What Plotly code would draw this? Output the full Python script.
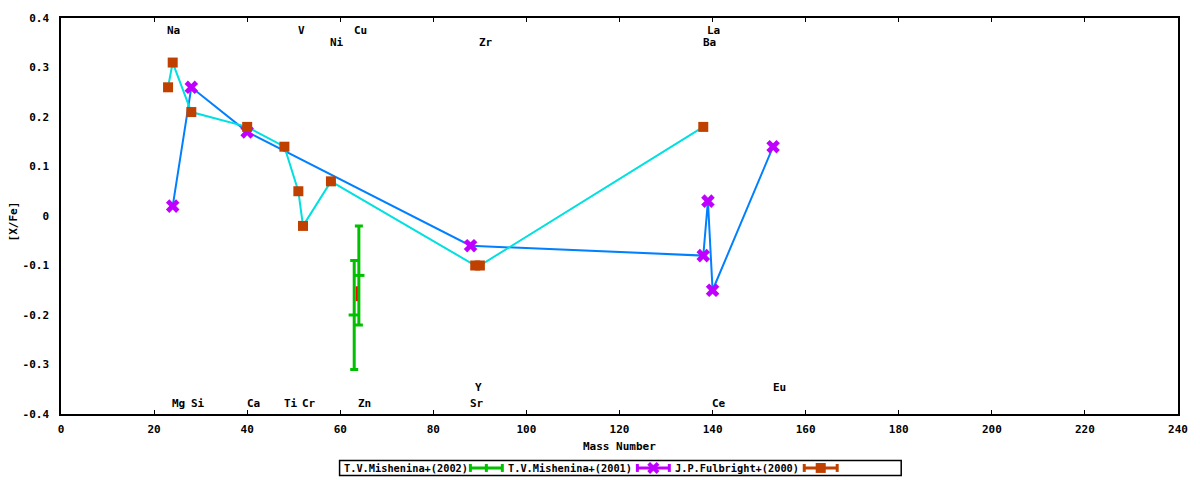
import plotly.graph_objects as go

# [X/Fe] versus mass number
mish2002_mass = [63, 64]
mish2002_xfe = [-0.20, -0.12]
mish2002_err = [0.11, 0.10]

extra_mass = [63.55]
extra_xfe = [-0.157]
extra_err = [0.015]

mish2001_mass = [24, 28, 40, 88, 138, 139, 140, 153]
mish2001_xfe = [0.02, 0.26, 0.17, -0.06, -0.08, 0.03, -0.15, 0.14]

fulb2000_mass = [23, 24, 28, 40, 48, 51, 52, 58, 89, 90, 138]
fulb2000_xfe = [0.26, 0.31, 0.21, 0.18, 0.14, 0.05, -0.02, 0.07, -0.10, -0.10, 0.18]

# element labels, by row
row1_names = ["Na", "V", "Cu", "La"]
row1_mass = [23, 51, 63, 139]
row2_names = ["Ni", "Zr", "Ba"]
row2_mass = [58, 90, 138]
row3_names = ["Y", "Eu"]
row3_mass = [89, 153]
row4_names = ["Mg", "Si", "Ca", "Ti", "Cr", "Zn", "Sr", "Ce"]
row4_mass = [24, 28, 40, 48, 52, 64, 88, 140]

legend_names = ["T.V.Mishenina+(2002)", "T.V.Mishenina+(2001)", "J.P.Fulbright+(2000)"]

x_ticks = list(range(0, 241, 20))
y_ticks = [-0.4, -0.3, -0.2, -0.1, 0, 0.1, 0.2, 0.3, 0.4]
y_ticktext = ["-0.4", "-0.3", "-0.2", "-0.1", "0", "0.1", "0.2", "0.3", "0.4"]

GREEN = "#00c000"
PURPLE = "#c000ff"
ORANGE = "#c04000"
BLUE = "#0080ff"
CYAN = "#00e0e0"
FONT = dict(family="DejaVu Sans Mono", size=11, color="black", weight="bold")

fig = go.Figure()

fig.add_trace(go.Scatter(x=mish2001_mass, y=mish2001_xfe, mode="lines",
                         line=dict(color=BLUE, width=2), showlegend=False))
fig.add_trace(go.Scatter(x=fulb2000_mass, y=fulb2000_xfe, mode="lines",
                         line=dict(color=CYAN, width=2), showlegend=False))

fig.add_trace(go.Scatter(
    x=mish2002_mass, y=mish2002_xfe, mode="markers",
    marker=dict(symbol="line-ew", size=8, line=dict(color=GREEN, width=3)),
    error_y=dict(type="data", array=mish2002_err, color=GREEN, thickness=3, width=4),
    showlegend=False))
fig.add_trace(go.Scatter(
    x=extra_mass, y=extra_xfe, mode="markers",
    marker=dict(size=1, color="red"),
    error_y=dict(type="data", array=extra_err, color="red", thickness=2, width=0),
    showlegend=False))
fig.add_trace(go.Scatter(
    x=mish2001_mass, y=mish2001_xfe, mode="markers",
    marker=dict(symbol="x", size=12, color=PURPLE, line=dict(width=0)),
    showlegend=False))
fig.add_trace(go.Scatter(
    x=fulb2000_mass, y=fulb2000_xfe, mode="markers",
    marker=dict(symbol="square", size=10, color=ORANGE, line=dict(width=0)),
    showlegend=False))

annotations = []
for names, masses, yv in [(row1_names, row1_mass, 0.375), (row2_names, row2_mass, 0.351),
                          (row3_names, row3_mass, -0.346), (row4_names, row4_mass, -0.378)]:
    for n, m in zip(names, masses):
        annotations.append(dict(x=m - 0.55, y=yv, text=n, showarrow=False,
                                xanchor="left", yanchor="middle", font=FONT))

annotations.append(dict(x=0.5, y=-0.0825, xref="paper", yref="paper", text="Mass Number",
                        showarrow=False, xanchor="center", yanchor="middle", font=FONT))
annotations.append(dict(x=-0.0425, y=0.485, xref="paper", yref="paper", text="[X/Fe]",
                        textangle=-90, showarrow=False, xanchor="center", yanchor="middle",
                        font=FONT))

# hand-built legend: text first, then sample (gnuplot style)
shapes = [dict(type="rect", xref="paper", yref="paper", x0=0.2494, x1=0.7522,
               y0=-0.155, y1=-0.1175, line=dict(color="black", width=1.5))]
leg_text_x = [0.2512, 0.3988, 0.548]
leg_sample_x = [(0.3665, 0.3951), (0.516, 0.5446), (0.6654, 0.6949)]
leg_colors = [GREEN, PURPLE, ORANGE]
ly = -0.1363
for name, tx, (s0, s1), c in zip(legend_names, leg_text_x, leg_sample_x, leg_colors):
    annotations.append(dict(x=tx, y=ly, xref="paper", yref="paper", text=name, showarrow=False,
                            xanchor="left", yanchor="middle",
                            font=dict(family="DejaVu Sans Mono", size=10.3, color="black",
                                      weight="bold")))
    shapes.append(dict(type="line", xref="paper", yref="paper", x0=s0, x1=s1, y0=ly, y1=ly,
                       line=dict(color=c, width=3)))
    for xx in (s0, s1):
        shapes.append(dict(type="line", xref="paper", yref="paper", x0=xx, x1=xx,
                           y0=ly - 0.01, y1=ly + 0.01, line=dict(color=c, width=3)))
    mid = (s0 + s1) / 2
    if c == GREEN:
        shapes.append(dict(type="line", xref="paper", yref="paper", x0=mid, x1=mid,
                           y0=ly - 0.01, y1=ly + 0.01, line=dict(color=c, width=3)))
    elif c == PURPLE:
        dx, dy = 0.0042, 0.0115
        for a, b in ((-1, -1), (-1, 1)):
            shapes.append(dict(type="line", xref="paper", yref="paper",
                               x0=mid + a * dx, x1=mid - a * dx, y0=ly + b * dy, y1=ly - b * dy,
                               line=dict(color=c, width=4)))
    else:
        shapes.append(dict(type="rect", xref="paper", yref="paper", x0=mid - 0.0045,
                           x1=mid + 0.0045, y0=ly - 0.0125, y1=ly + 0.0125,
                           fillcolor=c, line=dict(width=0)))

fig.update_layout(
    width=1200, height=480,
    margin=dict(l=61, r=21, t=14, b=66, pad=0),
    paper_bgcolor="white", plot_bgcolor="white",
    showlegend=False,
    font=FONT,
    annotations=annotations,
    shapes=shapes,
    xaxis=dict(range=[0, 240], tickvals=x_ticks, ticks="inside", ticklen=4, tickwidth=1,
               tickcolor="black", showline=True, linecolor="black", linewidth=1.5,
               mirror="ticks", showgrid=False, zeroline=False, tickfont=FONT,
               ticklabelstandoff=4),
    yaxis=dict(range=[-0.4, 0.4], tickvals=y_ticks, ticktext=y_ticktext, ticks="",
               showline=True, linecolor="black", linewidth=1.5, mirror=True,
               showgrid=False, zeroline=False, tickfont=FONT, ticklabelstandoff=8),
)

# drop the browser's default page margin so the figure sits at the window origin
fig.write_html("out.html", config={"displayModeBar": False},
               post_script="document.body.style.margin='0';")
